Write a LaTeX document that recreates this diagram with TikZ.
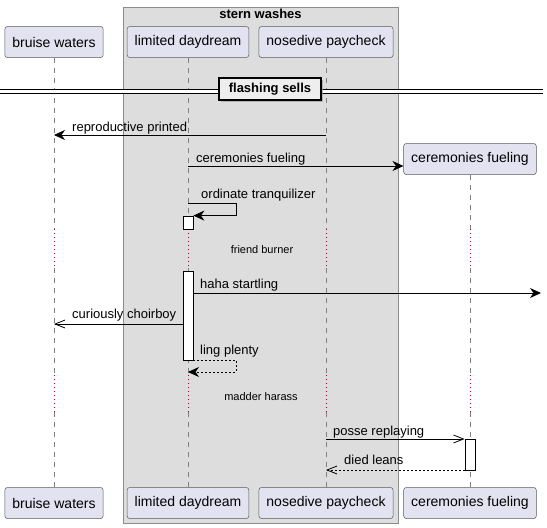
\documentclass[tikz,border=0pt]{standalone}
\usepackage{fontspec}
\setmainfont{Liberation Sans}
\usetikzlibrary{arrows.meta,positioning,shadows}

\definecolor{partfill}{HTML}{E2E2F0}
\definecolor{grpfill}{HTML}{DDDDDD}
\definecolor{divfill}{HTML}{EEEEEE}
\definecolor{delayred}{HTML}{A80036}

\begin{document}
\begin{tikzpicture}[
  x=1pt, y=-1pt,
  participant/.style={
    rectangle,
    rounded corners=2.5pt,
    draw=black!65,
    line width=0.5pt,
    fill=partfill,
    minimum height=31pt,
    inner xsep=7.5pt,
    font=\fontsize{14}{16}\selectfont
  },
  group/.style={rectangle, draw=black!45, line width=0.8pt, fill=grpfill},
  lifeline/.style={draw=black!50, line width=0.5pt, dash pattern=on 5pt off 5pt},
  delayline/.style={draw=delayred, line width=0.8pt, dash pattern=on 0.8pt off 3.2pt},
  activation/.style={rectangle, draw=black, line width=0.8pt, fill=white,
    minimum width=10pt, inner sep=0pt},
  msg/.style={line width=0.8pt, -{Stealth[length=11pt,width=10pt,inset=3.5pt]}},
  openmsg/.style={line width=0.8pt, -{Straight Barb[length=10pt,width=8pt]}},
  reply/.style={msg, dash pattern=on 2pt off 2pt},
  openreply/.style={openmsg, dash pattern=on 2pt off 2pt},
  msgtext/.style={anchor=base west, inner sep=0pt, font=\fontsize{13}{15}\selectfont},
  delaytext/.style={inner sep=0pt, font=\fontsize{11}{13}\selectfont},
  divline/.style={draw=black, line width=1pt, double=white, double distance=3pt},
  divider/.style={rectangle, draw=black, line width=1.5pt, fill=divfill,
    minimum width=102pt, minimum height=22pt,
    drop shadow={shadow xshift=2pt, shadow yshift=-2pt, fill=black!40, opacity=0.6},
    font=\bfseries\fontsize{13}{15}\selectfont}
]
\useasboundingbox (0,0) rectangle (547,528);

% Box
\node[group, minimum width=275pt, minimum height=516pt] (grp) at (260.5,265) {};
\node[font=\bfseries\fontsize{13}{15}\selectfont, inner sep=0pt] (grptitle) at (260.5,14) {stern washes};

% Participants
\node[participant] (bw) at (54,42) {bruise waters};
\node[participant] (ld) at (188,42) {limited daydream};
\node[participant] (np) at (326,42) {nosedive paycheck};
\node[participant] (cf) at (470,159) {ceremonies fueling};

\node[participant] (bw2) at (54,503) {bruise waters};
\node[participant] (ld2) at (188,503) {limited daydream};
\node[participant] (np2) at (326,503) {nosedive paycheck};
\node[participant] (cf2) at (470,503) {ceremonies fueling};

% Delays
\coordinate (d1s) at (0,229);
\coordinate (d1e) at (0,268);
\coordinate (d2s) at (0,375);
\coordinate (d2e) at (0,412);

% Lifelines
\foreach \p in {bw,ld,np,cf} {
  \draw[lifeline] (\p.south) -- (\p |- d1s);
  \draw[delayline] (\p |- d1s) -- (\p |- d1e);
  \draw[lifeline] (\p |- d1e) -- (\p |- d2s);
  \draw[delayline] (\p |- d2s) -- (\p |- d2e);
  \draw[lifeline] (\p |- d2e) -- (\p2.north);
}

\node[delaytext] (dl1) at (262,250) {friend burner};
\node[delaytext] (dl2) at (261,397) {madder harass};

% Divider
\coordinate (divl) at (0,91);
\coordinate (divr) at (543,91);
\draw[divline] (divl) -- (divr);
\node[divider] (div) at (270,89) {flashing sells};

% Activations
\node[activation, minimum height=13pt] (a1) at (188,222.5) {};
\node[activation, minimum height=89pt] (a2) at (188,315.5) {};
\node[activation, minimum height=31pt] (a3) at (470,454.5) {};

% Messages
\coordinate (m1) at (0,135);
\coordinate (m2) at (0,166);
\coordinate (m3) at (0,203);
\coordinate (m4) at (541,293);
\coordinate (m5) at (0,324);
\coordinate (m6) at (0,372);
\coordinate (m7) at (0,439);
\coordinate (m8) at (0,470);

\draw[msg] (np |- m1) -- (bw |- m1);
\node[msgtext] (t1) at (72,131) {reproductive printed};

\draw[msg] (ld |- m2) -- (cf.west |- m2);
\node[msgtext] (t2) at (196,162) {ceremonies fueling};

\draw[msg] (ld |- m3) -- ++(48,0) |- (a1.north east);
\node[msgtext] (t3) at (201,198) {ordinate tranquilizer};

\draw[msg] (a2.east |- m4) -- (m4);
\node[msgtext] (t4) at (200,288) {haha startling};

\draw[openmsg] (a2.west |- m5) -- (bw |- m5);
\node[msgtext] (t5) at (72,318) {curiously choirboy};

\draw[reply] (a2.south east) -- ++(43,0) |- (ld |- m6);
\node[msgtext] (t6) at (200,354) {ling plenty};

\draw[openmsg] (np |- m7) -- (a3.west |- m7);
\node[msgtext] (t7) at (333,435) {posse replaying};

\draw[openreply] (a3.west |- m8) -- (np |- m8);
\node[msgtext] (t8) at (344,464) {died leans};

\end{tikzpicture}
\end{document}
